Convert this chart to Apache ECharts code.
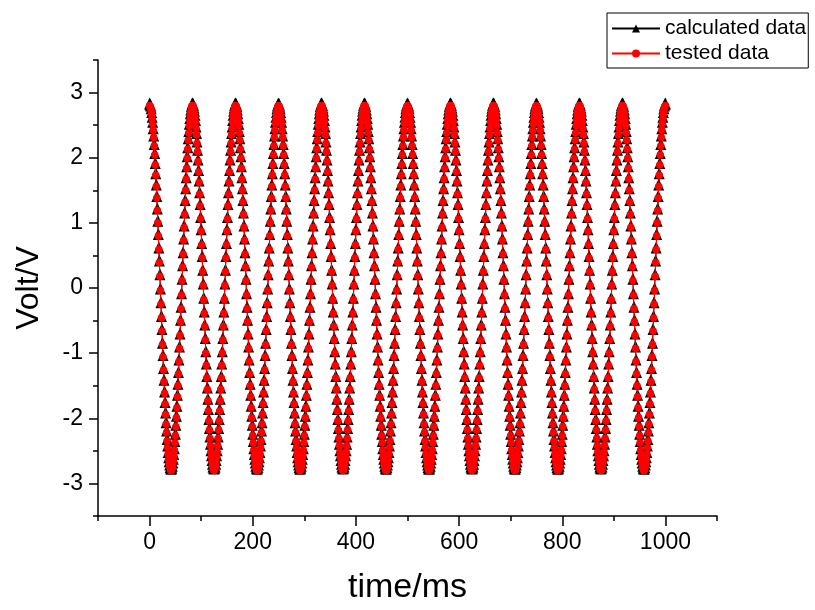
<!DOCTYPE html>
<html>
<head>
<meta charset="utf-8">
<script src="https://cdn.jsdelivr.net/npm/echarts@6/dist/echarts.min.js"></script>
<style>
    html, body { margin: 0; padding: 0; background: #fff; }
    #main { width: 815px; height: 610px; }
</style>
</head>
<body>
<div id="main"></div>
<script>
// one sample every ms, from 0 to 1000 ms
const timeStart = 0
const timeStep = 1

const calculatedVolt = [
    2.80, 2.79, 2.77, 2.73, 2.67, 2.60, 2.52, 2.42, 2.31, 2.18,
    2.04, 1.89, 1.73, 1.56, 1.38, 1.19, 1.00, 0.80, 0.59, 0.39,
    0.18, -0.04, -0.25, -0.46, -0.66, -0.87, -1.06, -1.26, -1.44, -1.62,
    -1.78, -1.94, -2.09, -2.22, -2.35, -2.45, -2.55, -2.63, -2.69, -2.74,
    -2.78, -2.80, -2.80, -2.79, -2.76, -2.71, -2.65, -2.58, -2.49, -2.38,
    -2.27, -2.13, -1.99, -1.84, -1.67, -1.50, -1.32, -1.13, -0.93, -0.73,
    -0.52, -0.32, -0.11, 0.11, 0.32, 0.52, 0.73, 0.93, 1.13, 1.32,
    1.50, 1.67, 1.84, 1.99, 2.13, 2.27, 2.38, 2.49, 2.58, 2.65,
    2.71, 2.76, 2.79, 2.80, 2.80, 2.78, 2.74, 2.69, 2.63, 2.55,
    2.45, 2.35, 2.22, 2.09, 1.94, 1.78, 1.62, 1.44, 1.26, 1.06,
    0.87, 0.66, 0.46, 0.25, 0.04, -0.18, -0.39, -0.59, -0.80, -1.00,
    -1.19, -1.38, -1.56, -1.73, -1.89, -2.04, -2.18, -2.31, -2.42, -2.52,
    -2.60, -2.67, -2.73, -2.77, -2.79, -2.80, -2.79, -2.77, -2.73, -2.67,
    -2.60, -2.52, -2.42, -2.31, -2.18, -2.04, -1.89, -1.73, -1.56, -1.38,
    -1.19, -1.00, -0.80, -0.59, -0.39, -0.18, 0.04, 0.25, 0.46, 0.66,
    0.87, 1.06, 1.26, 1.44, 1.62, 1.78, 1.94, 2.09, 2.22, 2.35,
    2.45, 2.55, 2.63, 2.69, 2.74, 2.78, 2.80, 2.80, 2.79, 2.76,
    2.71, 2.65, 2.58, 2.49, 2.38, 2.27, 2.13, 1.99, 1.84, 1.67,
    1.50, 1.32, 1.13, 0.93, 0.73, 0.52, 0.32, 0.11, -0.11, -0.32,
    -0.52, -0.73, -0.93, -1.13, -1.32, -1.50, -1.67, -1.84, -1.99, -2.13,
    -2.27, -2.38, -2.49, -2.58, -2.65, -2.71, -2.76, -2.79, -2.80, -2.80,
    -2.78, -2.74, -2.69, -2.63, -2.55, -2.45, -2.35, -2.22, -2.09, -1.94,
    -1.78, -1.62, -1.44, -1.26, -1.06, -0.87, -0.66, -0.46, -0.25, -0.04,
    0.18, 0.39, 0.59, 0.80, 1.00, 1.19, 1.38, 1.56, 1.73, 1.89,
    2.04, 2.18, 2.31, 2.42, 2.52, 2.60, 2.67, 2.73, 2.77, 2.79,
    2.80, 2.79, 2.77, 2.73, 2.67, 2.60, 2.52, 2.42, 2.31, 2.18,
    2.04, 1.89, 1.73, 1.56, 1.38, 1.19, 1.00, 0.80, 0.59, 0.39,
    0.18, -0.04, -0.25, -0.46, -0.66, -0.87, -1.06, -1.26, -1.44, -1.62,
    -1.78, -1.94, -2.09, -2.22, -2.35, -2.45, -2.55, -2.63, -2.69, -2.74,
    -2.78, -2.80, -2.80, -2.79, -2.76, -2.71, -2.65, -2.58, -2.49, -2.38,
    -2.27, -2.13, -1.99, -1.84, -1.67, -1.50, -1.32, -1.13, -0.93, -0.73,
    -0.52, -0.32, -0.11, 0.11, 0.32, 0.52, 0.73, 0.93, 1.13, 1.32,
    1.50, 1.67, 1.84, 1.99, 2.13, 2.27, 2.38, 2.49, 2.58, 2.65,
    2.71, 2.76, 2.79, 2.80, 2.80, 2.78, 2.74, 2.69, 2.63, 2.55,
    2.45, 2.35, 2.22, 2.09, 1.94, 1.78, 1.62, 1.44, 1.26, 1.06,
    0.87, 0.66, 0.46, 0.25, 0.04, -0.18, -0.39, -0.59, -0.80, -1.00,
    -1.19, -1.38, -1.56, -1.73, -1.89, -2.04, -2.18, -2.31, -2.42, -2.52,
    -2.60, -2.67, -2.73, -2.77, -2.79, -2.80, -2.79, -2.77, -2.73, -2.67,
    -2.60, -2.52, -2.42, -2.31, -2.18, -2.04, -1.89, -1.73, -1.56, -1.38,
    -1.19, -1.00, -0.80, -0.59, -0.39, -0.18, 0.04, 0.25, 0.46, 0.66,
    0.87, 1.06, 1.26, 1.44, 1.62, 1.78, 1.94, 2.09, 2.22, 2.35,
    2.45, 2.55, 2.63, 2.69, 2.74, 2.78, 2.80, 2.80, 2.79, 2.76,
    2.71, 2.65, 2.58, 2.49, 2.38, 2.27, 2.13, 1.99, 1.84, 1.67,
    1.50, 1.32, 1.13, 0.93, 0.73, 0.52, 0.32, 0.11, -0.11, -0.32,
    -0.52, -0.73, -0.93, -1.13, -1.32, -1.50, -1.67, -1.84, -1.99, -2.13,
    -2.27, -2.38, -2.49, -2.58, -2.65, -2.71, -2.76, -2.79, -2.80, -2.80,
    -2.78, -2.74, -2.69, -2.63, -2.55, -2.45, -2.35, -2.22, -2.09, -1.94,
    -1.78, -1.62, -1.44, -1.26, -1.06, -0.87, -0.66, -0.46, -0.25, -0.04,
    0.18, 0.39, 0.59, 0.80, 1.00, 1.19, 1.38, 1.56, 1.73, 1.89,
    2.04, 2.18, 2.31, 2.42, 2.52, 2.60, 2.67, 2.73, 2.77, 2.79,
    2.80, 2.79, 2.77, 2.73, 2.67, 2.60, 2.52, 2.42, 2.31, 2.18,
    2.04, 1.89, 1.73, 1.56, 1.38, 1.19, 1.00, 0.80, 0.59, 0.39,
    0.18, -0.04, -0.25, -0.46, -0.66, -0.87, -1.06, -1.26, -1.44, -1.62,
    -1.78, -1.94, -2.09, -2.22, -2.35, -2.45, -2.55, -2.63, -2.69, -2.74,
    -2.78, -2.80, -2.80, -2.79, -2.76, -2.71, -2.65, -2.58, -2.49, -2.38,
    -2.27, -2.13, -1.99, -1.84, -1.67, -1.50, -1.32, -1.13, -0.93, -0.73,
    -0.52, -0.32, -0.11, 0.11, 0.32, 0.52, 0.73, 0.93, 1.13, 1.32,
    1.50, 1.67, 1.84, 1.99, 2.13, 2.27, 2.38, 2.49, 2.58, 2.65,
    2.71, 2.76, 2.79, 2.80, 2.80, 2.78, 2.74, 2.69, 2.63, 2.55,
    2.45, 2.35, 2.22, 2.09, 1.94, 1.78, 1.62, 1.44, 1.26, 1.06,
    0.87, 0.66, 0.46, 0.25, 0.04, -0.18, -0.39, -0.59, -0.80, -1.00,
    -1.19, -1.38, -1.56, -1.73, -1.89, -2.04, -2.18, -2.31, -2.42, -2.52,
    -2.60, -2.67, -2.73, -2.77, -2.79, -2.80, -2.79, -2.77, -2.73, -2.67,
    -2.60, -2.52, -2.42, -2.31, -2.18, -2.04, -1.89, -1.73, -1.56, -1.38,
    -1.19, -1.00, -0.80, -0.59, -0.39, -0.18, 0.04, 0.25, 0.46, 0.66,
    0.87, 1.06, 1.26, 1.44, 1.62, 1.78, 1.94, 2.09, 2.22, 2.35,
    2.45, 2.55, 2.63, 2.69, 2.74, 2.78, 2.80, 2.80, 2.79, 2.76,
    2.71, 2.65, 2.58, 2.49, 2.38, 2.27, 2.13, 1.99, 1.84, 1.67,
    1.50, 1.32, 1.13, 0.93, 0.73, 0.52, 0.32, 0.11, -0.11, -0.32,
    -0.52, -0.73, -0.93, -1.13, -1.32, -1.50, -1.67, -1.84, -1.99, -2.13,
    -2.27, -2.38, -2.49, -2.58, -2.65, -2.71, -2.76, -2.79, -2.80, -2.80,
    -2.78, -2.74, -2.69, -2.63, -2.55, -2.45, -2.35, -2.22, -2.09, -1.94,
    -1.78, -1.62, -1.44, -1.26, -1.06, -0.87, -0.66, -0.46, -0.25, -0.04,
    0.18, 0.39, 0.59, 0.80, 1.00, 1.19, 1.38, 1.56, 1.73, 1.89,
    2.04, 2.18, 2.31, 2.42, 2.52, 2.60, 2.67, 2.73, 2.77, 2.79,
    2.80, 2.79, 2.77, 2.73, 2.67, 2.60, 2.52, 2.42, 2.31, 2.18,
    2.04, 1.89, 1.73, 1.56, 1.38, 1.19, 1.00, 0.80, 0.59, 0.39,
    0.18, -0.04, -0.25, -0.46, -0.66, -0.87, -1.06, -1.26, -1.44, -1.62,
    -1.78, -1.94, -2.09, -2.22, -2.35, -2.45, -2.55, -2.63, -2.69, -2.74,
    -2.78, -2.80, -2.80, -2.79, -2.76, -2.71, -2.65, -2.58, -2.49, -2.38,
    -2.27, -2.13, -1.99, -1.84, -1.67, -1.50, -1.32, -1.13, -0.93, -0.73,
    -0.52, -0.32, -0.11, 0.11, 0.32, 0.52, 0.73, 0.93, 1.13, 1.32,
    1.50, 1.67, 1.84, 1.99, 2.13, 2.27, 2.38, 2.49, 2.58, 2.65,
    2.71, 2.76, 2.79, 2.80, 2.80, 2.78, 2.74, 2.69, 2.63, 2.55,
    2.45, 2.35, 2.22, 2.09, 1.94, 1.78, 1.62, 1.44, 1.26, 1.06,
    0.87, 0.66, 0.46, 0.25, 0.04, -0.18, -0.39, -0.59, -0.80, -1.00,
    -1.19, -1.38, -1.56, -1.73, -1.89, -2.04, -2.18, -2.31, -2.42, -2.52,
    -2.60, -2.67, -2.73, -2.77, -2.79, -2.80, -2.79, -2.77, -2.73, -2.67,
    -2.60, -2.52, -2.42, -2.31, -2.18, -2.04, -1.89, -1.73, -1.56, -1.38,
    -1.19, -1.00, -0.80, -0.59, -0.39, -0.18, 0.04, 0.25, 0.46, 0.66,
    0.87, 1.06, 1.26, 1.44, 1.62, 1.78, 1.94, 2.09, 2.22, 2.35,
    2.45, 2.55, 2.63, 2.69, 2.74, 2.78, 2.80, 2.80, 2.79, 2.76,
    2.71, 2.65, 2.58, 2.49, 2.38, 2.27, 2.13, 1.99, 1.84, 1.67,
    1.50, 1.32, 1.13, 0.93, 0.73, 0.52, 0.32, 0.11, -0.11, -0.32,
    -0.52, -0.73, -0.93, -1.13, -1.32, -1.50, -1.67, -1.84, -1.99, -2.13,
    -2.27, -2.38, -2.49, -2.58, -2.65, -2.71, -2.76, -2.79, -2.80, -2.80,
    -2.78, -2.74, -2.69, -2.63, -2.55, -2.45, -2.35, -2.22, -2.09, -1.94,
    -1.78, -1.62, -1.44, -1.26, -1.06, -0.87, -0.66, -0.46, -0.25, -0.04,
    0.18, 0.39, 0.59, 0.80, 1.00, 1.19, 1.38, 1.56, 1.73, 1.89,
    2.04, 2.18, 2.31, 2.42, 2.52, 2.60, 2.67, 2.73, 2.77, 2.79,
    2.80
]

const testedVolt = [
    2.80, 2.79, 2.77, 2.73, 2.67, 2.60, 2.52, 2.42, 2.31, 2.18,
    2.04, 1.89, 1.73, 1.56, 1.38, 1.19, 1.00, 0.80, 0.59, 0.39,
    0.18, -0.04, -0.25, -0.46, -0.66, -0.87, -1.06, -1.26, -1.44, -1.62,
    -1.78, -1.94, -2.09, -2.22, -2.35, -2.45, -2.55, -2.63, -2.69, -2.74,
    -2.78, -2.80, -2.80, -2.79, -2.76, -2.71, -2.65, -2.58, -2.49, -2.38,
    -2.27, -2.13, -1.99, -1.84, -1.67, -1.50, -1.32, -1.13, -0.93, -0.73,
    -0.52, -0.32, -0.11, 0.11, 0.32, 0.52, 0.73, 0.93, 1.13, 1.32,
    1.50, 1.67, 1.84, 1.99, 2.13, 2.27, 2.38, 2.49, 2.58, 2.65,
    2.71, 2.76, 2.79, 2.80, 2.80, 2.78, 2.74, 2.69, 2.63, 2.55,
    2.45, 2.35, 2.22, 2.09, 1.94, 1.78, 1.62, 1.44, 1.26, 1.06,
    0.87, 0.66, 0.46, 0.25, 0.04, -0.18, -0.39, -0.59, -0.80, -1.00,
    -1.19, -1.38, -1.56, -1.73, -1.89, -2.04, -2.18, -2.31, -2.42, -2.52,
    -2.60, -2.67, -2.73, -2.77, -2.79, -2.80, -2.79, -2.77, -2.73, -2.67,
    -2.60, -2.52, -2.42, -2.31, -2.18, -2.04, -1.89, -1.73, -1.56, -1.38,
    -1.19, -1.00, -0.80, -0.59, -0.39, -0.18, 0.04, 0.25, 0.46, 0.66,
    0.87, 1.06, 1.26, 1.44, 1.62, 1.78, 1.94, 2.09, 2.22, 2.35,
    2.45, 2.55, 2.63, 2.69, 2.74, 2.78, 2.80, 2.80, 2.79, 2.76,
    2.71, 2.65, 2.58, 2.49, 2.38, 2.27, 2.13, 1.99, 1.84, 1.67,
    1.50, 1.32, 1.13, 0.93, 0.73, 0.52, 0.32, 0.11, -0.11, -0.32,
    -0.52, -0.73, -0.93, -1.13, -1.32, -1.50, -1.67, -1.84, -1.99, -2.13,
    -2.27, -2.38, -2.49, -2.58, -2.65, -2.71, -2.76, -2.79, -2.80, -2.80,
    -2.78, -2.74, -2.69, -2.63, -2.55, -2.45, -2.35, -2.22, -2.09, -1.94,
    -1.78, -1.62, -1.44, -1.26, -1.06, -0.87, -0.66, -0.46, -0.25, -0.04,
    0.18, 0.39, 0.59, 0.80, 1.00, 1.19, 1.38, 1.56, 1.73, 1.89,
    2.04, 2.18, 2.31, 2.42, 2.52, 2.60, 2.67, 2.73, 2.77, 2.79,
    2.80, 2.79, 2.77, 2.73, 2.67, 2.60, 2.52, 2.42, 2.31, 2.18,
    2.04, 1.89, 1.73, 1.56, 1.38, 1.19, 1.00, 0.80, 0.59, 0.39,
    0.18, -0.04, -0.25, -0.46, -0.66, -0.87, -1.06, -1.26, -1.44, -1.62,
    -1.78, -1.94, -2.09, -2.22, -2.35, -2.45, -2.55, -2.63, -2.69, -2.74,
    -2.78, -2.80, -2.80, -2.79, -2.76, -2.71, -2.65, -2.58, -2.49, -2.38,
    -2.27, -2.13, -1.99, -1.84, -1.67, -1.50, -1.32, -1.13, -0.93, -0.73,
    -0.52, -0.32, -0.11, 0.11, 0.32, 0.52, 0.73, 0.93, 1.13, 1.32,
    1.50, 1.67, 1.84, 1.99, 2.13, 2.27, 2.38, 2.49, 2.58, 2.65,
    2.71, 2.76, 2.79, 2.80, 2.80, 2.78, 2.74, 2.69, 2.63, 2.55,
    2.45, 2.35, 2.22, 2.09, 1.94, 1.78, 1.62, 1.44, 1.26, 1.06,
    0.87, 0.66, 0.46, 0.25, 0.04, -0.18, -0.39, -0.59, -0.80, -1.00,
    -1.19, -1.38, -1.56, -1.73, -1.89, -2.04, -2.18, -2.31, -2.42, -2.52,
    -2.60, -2.67, -2.73, -2.77, -2.79, -2.80, -2.79, -2.77, -2.73, -2.67,
    -2.60, -2.52, -2.42, -2.31, -2.18, -2.04, -1.89, -1.73, -1.56, -1.38,
    -1.19, -1.00, -0.80, -0.59, -0.39, -0.18, 0.04, 0.25, 0.46, 0.66,
    0.87, 1.06, 1.26, 1.44, 1.62, 1.78, 1.94, 2.09, 2.22, 2.35,
    2.45, 2.55, 2.63, 2.69, 2.74, 2.78, 2.80, 2.80, 2.79, 2.76,
    2.71, 2.65, 2.58, 2.49, 2.38, 2.27, 2.13, 1.99, 1.84, 1.67,
    1.50, 1.32, 1.13, 0.93, 0.73, 0.52, 0.32, 0.11, -0.11, -0.32,
    -0.52, -0.73, -0.93, -1.13, -1.32, -1.50, -1.67, -1.84, -1.99, -2.13,
    -2.27, -2.38, -2.49, -2.58, -2.65, -2.71, -2.76, -2.79, -2.80, -2.80,
    -2.78, -2.74, -2.69, -2.63, -2.55, -2.45, -2.35, -2.22, -2.09, -1.94,
    -1.78, -1.62, -1.44, -1.26, -1.06, -0.87, -0.66, -0.46, -0.25, -0.04,
    0.18, 0.39, 0.59, 0.80, 1.00, 1.19, 1.38, 1.56, 1.73, 1.89,
    2.04, 2.18, 2.31, 2.42, 2.52, 2.60, 2.67, 2.73, 2.77, 2.79,
    2.80, 2.79, 2.77, 2.73, 2.67, 2.60, 2.52, 2.42, 2.31, 2.18,
    2.04, 1.89, 1.73, 1.56, 1.38, 1.19, 1.00, 0.80, 0.59, 0.39,
    0.18, -0.04, -0.25, -0.46, -0.66, -0.87, -1.06, -1.26, -1.44, -1.62,
    -1.78, -1.94, -2.09, -2.22, -2.35, -2.45, -2.55, -2.63, -2.69, -2.74,
    -2.78, -2.80, -2.80, -2.79, -2.76, -2.71, -2.65, -2.58, -2.49, -2.38,
    -2.27, -2.13, -1.99, -1.84, -1.67, -1.50, -1.32, -1.13, -0.93, -0.73,
    -0.52, -0.32, -0.11, 0.11, 0.32, 0.52, 0.73, 0.93, 1.13, 1.32,
    1.50, 1.67, 1.84, 1.99, 2.13, 2.27, 2.38, 2.49, 2.58, 2.65,
    2.71, 2.76, 2.79, 2.80, 2.80, 2.78, 2.74, 2.69, 2.63, 2.55,
    2.45, 2.35, 2.22, 2.09, 1.94, 1.78, 1.62, 1.44, 1.26, 1.06,
    0.87, 0.66, 0.46, 0.25, 0.04, -0.18, -0.39, -0.59, -0.80, -1.00,
    -1.19, -1.38, -1.56, -1.73, -1.89, -2.04, -2.18, -2.31, -2.42, -2.52,
    -2.60, -2.67, -2.73, -2.77, -2.79, -2.80, -2.79, -2.77, -2.73, -2.67,
    -2.60, -2.52, -2.42, -2.31, -2.18, -2.04, -1.89, -1.73, -1.56, -1.38,
    -1.19, -1.00, -0.80, -0.59, -0.39, -0.18, 0.04, 0.25, 0.46, 0.66,
    0.87, 1.06, 1.26, 1.44, 1.62, 1.78, 1.94, 2.09, 2.22, 2.35,
    2.45, 2.55, 2.63, 2.69, 2.74, 2.78, 2.80, 2.80, 2.79, 2.76,
    2.71, 2.65, 2.58, 2.49, 2.38, 2.27, 2.13, 1.99, 1.84, 1.67,
    1.50, 1.32, 1.13, 0.93, 0.73, 0.52, 0.32, 0.11, -0.11, -0.32,
    -0.52, -0.73, -0.93, -1.13, -1.32, -1.50, -1.67, -1.84, -1.99, -2.13,
    -2.27, -2.38, -2.49, -2.58, -2.65, -2.71, -2.76, -2.79, -2.80, -2.80,
    -2.78, -2.74, -2.69, -2.63, -2.55, -2.45, -2.35, -2.22, -2.09, -1.94,
    -1.78, -1.62, -1.44, -1.26, -1.06, -0.87, -0.66, -0.46, -0.25, -0.04,
    0.18, 0.39, 0.59, 0.80, 1.00, 1.19, 1.38, 1.56, 1.73, 1.89,
    2.04, 2.18, 2.31, 2.42, 2.52, 2.60, 2.67, 2.73, 2.77, 2.79,
    2.80, 2.79, 2.77, 2.73, 2.67, 2.60, 2.52, 2.42, 2.31, 2.18,
    2.04, 1.89, 1.73, 1.56, 1.38, 1.19, 1.00, 0.80, 0.59, 0.39,
    0.18, -0.04, -0.25, -0.46, -0.66, -0.87, -1.06, -1.26, -1.44, -1.62,
    -1.78, -1.94, -2.09, -2.22, -2.35, -2.45, -2.55, -2.63, -2.69, -2.74,
    -2.78, -2.80, -2.80, -2.79, -2.76, -2.71, -2.65, -2.58, -2.49, -2.38,
    -2.27, -2.13, -1.99, -1.84, -1.67, -1.50, -1.32, -1.13, -0.93, -0.73,
    -0.52, -0.32, -0.11, 0.11, 0.32, 0.52, 0.73, 0.93, 1.13, 1.32,
    1.50, 1.67, 1.84, 1.99, 2.13, 2.27, 2.38, 2.49, 2.58, 2.65,
    2.71, 2.76, 2.79, 2.80, 2.80, 2.78, 2.74, 2.69, 2.63, 2.55,
    2.45, 2.35, 2.22, 2.09, 1.94, 1.78, 1.62, 1.44, 1.26, 1.06,
    0.87, 0.66, 0.46, 0.25, 0.04, -0.18, -0.39, -0.59, -0.80, -1.00,
    -1.19, -1.38, -1.56, -1.73, -1.89, -2.04, -2.18, -2.31, -2.42, -2.52,
    -2.60, -2.67, -2.73, -2.77, -2.79, -2.80, -2.79, -2.77, -2.73, -2.67,
    -2.60, -2.52, -2.42, -2.31, -2.18, -2.04, -1.89, -1.73, -1.56, -1.38,
    -1.19, -1.00, -0.80, -0.59, -0.39, -0.18, 0.04, 0.25, 0.46, 0.66,
    0.87, 1.06, 1.26, 1.44, 1.62, 1.78, 1.94, 2.09, 2.22, 2.35,
    2.45, 2.55, 2.63, 2.69, 2.74, 2.78, 2.80, 2.80, 2.79, 2.76,
    2.71, 2.65, 2.58, 2.49, 2.38, 2.27, 2.13, 1.99, 1.84, 1.67,
    1.50, 1.32, 1.13, 0.93, 0.73, 0.52, 0.32, 0.11, -0.11, -0.32,
    -0.52, -0.73, -0.93, -1.13, -1.32, -1.50, -1.67, -1.84, -1.99, -2.13,
    -2.27, -2.38, -2.49, -2.58, -2.65, -2.71, -2.76, -2.79, -2.80, -2.80,
    -2.78, -2.74, -2.69, -2.63, -2.55, -2.45, -2.35, -2.22, -2.09, -1.94,
    -1.78, -1.62, -1.44, -1.26, -1.06, -0.87, -0.66, -0.46, -0.25, -0.04,
    0.18, 0.39, 0.59, 0.80, 1.00, 1.19, 1.38, 1.56, 1.73, 1.89,
    2.04, 2.18, 2.31, 2.42, 2.52, 2.60, 2.67, 2.73, 2.77, 2.79,
    2.80
]

const xTickValues = [0, 200, 400, 600, 800, 1000]
const yTickValues = [-3, -2, -1, 0, 1, 2, 3]

const font = 'Liberation Sans, Arial, sans-serif'

// pair every sample with its time
function toPoints(volts) {
    return volts.map(function (v, i) {
        return [timeStart + i * timeStep, v]
    })
}

const chart = echarts.init(document.getElementById('main'))

const blackLine = { color: '#000', width: 1.5 }

chart.setOption({
    animation: false,
    backgroundColor: '#fff',
    grid: { left: 98, right: 98, top: 60, bottom: 89 },
    legend: {
        orient: 'vertical',
        left: 607,
        top: 13,
        padding: [5, 2, 4, 4],
        itemGap: 4,
        itemWidth: 48,
        itemHeight: 10,
        borderColor: '#000',
        borderWidth: 1,
        textStyle: { fontFamily: font, fontSize: 21, color: '#000' },
        data: ['calculated data', 'tested data']
    },
    xAxis: [
        {
            type: 'value',
            min: -100,
            max: 1100,
            position: 'bottom',
            name: 'time/ms',
            nameLocation: 'middle',
            nameGap: 55,
            nameTextStyle: { fontFamily: font, fontSize: 34, color: '#000' },
            axisLine: { show: true, onZero: false, lineStyle: blackLine },
            axisTick: { show: true, customValues: xTickValues, length: 10, lineStyle: blackLine },
            axisLabel: {
                customValues: xTickValues,
                margin: 15,
                fontFamily: font,
                fontSize: 23,
                color: '#000',
                formatter: function (v) { return String(v) }
            },
            splitLine: { show: false }
        },
        {
            // minor ticks
            type: 'value',
            min: -100,
            max: 1100,
            interval: 100,
            position: 'bottom',
            axisLine: { show: false, onZero: false },
            axisTick: { show: true, length: 5, lineStyle: blackLine },
            axisLabel: { show: false },
            splitLine: { show: false }
        }
    ],
    yAxis: [
        {
            type: 'value',
            min: -3.5,
            max: 3.5,
            position: 'left',
            name: 'Volt/V',
            nameLocation: 'middle',
            nameRotate: 90,
            nameGap: 53,
            nameTextStyle: { fontFamily: font, fontSize: 32, color: '#000' },
            axisLine: { show: true, onZero: false, lineStyle: blackLine },
            axisTick: { show: true, customValues: yTickValues, length: 9, lineStyle: blackLine },
            axisLabel: { customValues: yTickValues, margin: 15, fontFamily: font, fontSize: 23, color: '#000' },
            splitLine: { show: false }
        },
        {
            type: 'value',
            min: -3.5,
            max: 3.5,
            interval: 0.5,
            position: 'left',
            axisLine: { show: false, onZero: false },
            axisTick: { show: true, length: 5, lineStyle: blackLine },
            axisLabel: { show: false },
            splitLine: { show: false }
        }
    ],
    series: [
        {
            name: 'calculated data',
            type: 'line',
            xAxisIndex: 0,
            yAxisIndex: 0,
            data: toPoints(calculatedVolt),
            symbol: 'triangle',
            symbolSize: [11, 12],
            symbolOffset: [0, -2],
            itemStyle: { color: '#000' },
            lineStyle: { color: '#000', width: 1 },
            z: 2
        },
        {
            name: 'tested data',
            type: 'line',
            xAxisIndex: 0,
            yAxisIndex: 0,
            data: toPoints(testedVolt),
            symbol: 'circle',
            symbolSize: 7.5,
            itemStyle: { color: '#ff0000' },
            lineStyle: { color: '#ff0000', width: 1 },
            z: 3
        }
    ]
})
</script>
</body>
</html>
